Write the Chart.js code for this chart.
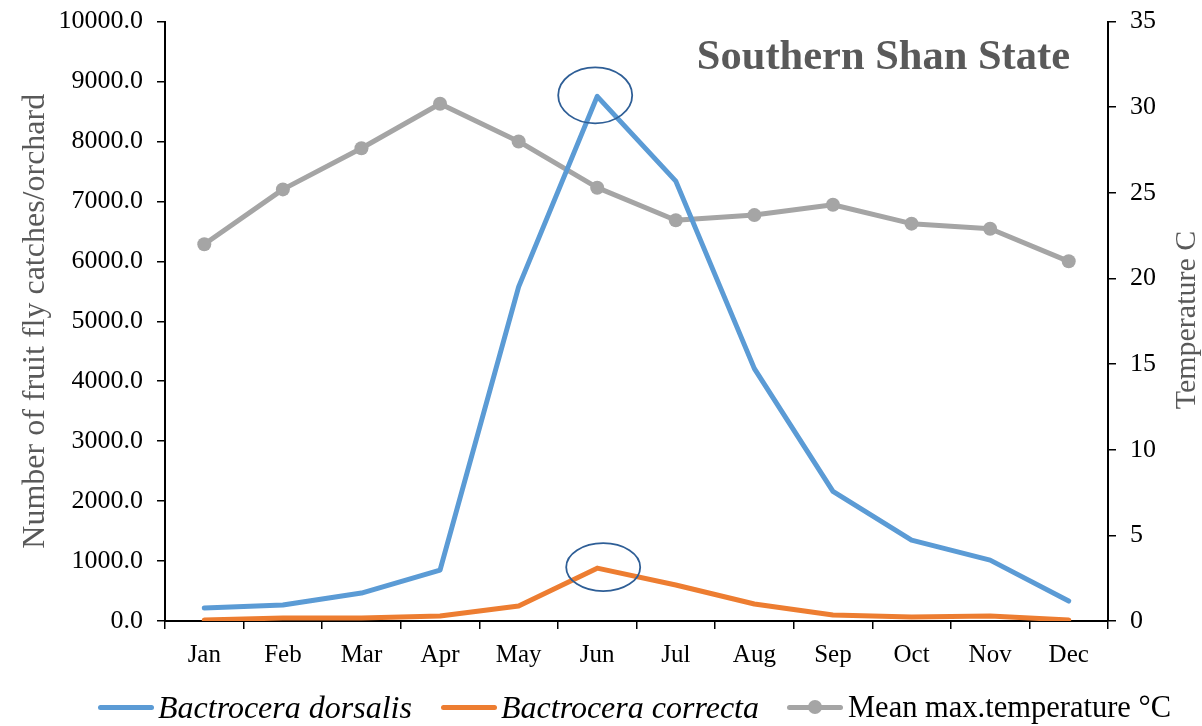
<!DOCTYPE html>
<html><head><meta charset="utf-8">
<script src="https://cdn.jsdelivr.net/npm/chart.js@4"></script>
<style>
html,body{margin:0;padding:0;background:#fff;}
#wrap{position:relative;width:1202px;height:726px;overflow:hidden;}
#legend{position:absolute;left:0;top:688px;width:1202px;height:38px;font-family:"Liberation Serif",serif;color:#000;}
.item{position:absolute;top:0;height:38px;line-height:38px;white-space:nowrap;}
.sw{position:absolute;top:17px;height:5px;border-radius:3px;}
.dot{position:absolute;top:12px;width:14px;height:14px;border-radius:50%;}
.lbl{position:absolute;top:0;}
</style></head>
<body>
<div id="wrap">
<canvas id="c" width="1202" height="726"></canvas>
<div id="legend"></div>
</div>
<script>
const months = ["Jan","Feb","Mar","Apr","May","Jun","Jul","Aug","Sep","Oct","Nov","Dec"];
const dorsalis = [216, 266, 466, 849, 5574, 8752, 7338, 4210, 2163, 1348, 1015, 333];
const correcta = [17, 50, 50, 83, 250, 882, 600, 283, 100, 67, 83, 17];
const temperature = [22.0, 25.2, 27.6, 30.2, 28.0, 25.3, 23.4, 23.7, 24.3, 23.2, 22.9, 21.0];
const leftTicks = {min: 0, max: 10000, step: 1000};
const rightTicks = {min: 0, max: 35, step: 5};
const seriesNames = ["Bactrocera dorsalis", "Bactrocera correcta", "Mean max.temperature °C"];
const chartTitle = "Southern Shan State";
const leftTitle = "Number of fruit fly catches/orchard";
const rightTitle = "Temperature C";

const FONT = "'Liberation Serif', 'Times New Roman', serif";
const BLUE = "#5B9BD5", ORANGE = "#ED7D31", GRAY = "#A5A5A5", TITLEGRAY = "#595959";

const extras = {
  id: 'extras',
  afterDraw(chart) {
    const ctx = chart.ctx, a = chart.chartArea;
    const x = chart.scales.x, y = chart.scales.y;
    ctx.save();
    ctx.font = "bold 42.5px " + FONT;
    ctx.fillStyle = TITLEGRAY;
    ctx.textAlign = 'right';
    ctx.textBaseline = 'alphabetic';
    ctx.fillText(chartTitle, a.right - 38, 69);
    ctx.font = "30px " + FONT;
    ctx.textAlign = 'center';
    ctx.textBaseline = 'middle';
    ctx.translate(1187, 320);
    ctx.rotate(-Math.PI / 2);
    ctx.fillText(rightTitle, 0, 0);
    ctx.restore();
    const peak = dorsalis.indexOf(Math.max(...dorsalis));
    ctx.save();
    ctx.strokeStyle = "#2E5E96";
    ctx.lineWidth = 1.8;
    ctx.beginPath();
    ctx.ellipse(x.getPixelForValue(peak) - 2, y.getPixelForValue(dorsalis[peak]) - 1, 37, 28, 0, 0, Math.PI * 2);
    ctx.stroke();
    const peak2 = correcta.indexOf(Math.max(...correcta));
    ctx.beginPath();
    ctx.ellipse(x.getPixelForValue(peak2) + 6, y.getPixelForValue(correcta[peak2]) - 1, 37, 24, 0, 0, Math.PI * 2);
    ctx.stroke();
    ctx.restore();
  }
};

const tickFont = {family: FONT, size: 26, lineHeight: 0.58};
new Chart(document.getElementById('c'), {
  type: 'line',
  data: {
    labels: months,
    datasets: [
      {label: seriesNames[0], data: dorsalis, yAxisID: 'y', borderColor: BLUE, borderWidth: 5, pointRadius: 0, tension: 0, borderJoinStyle: 'round', borderCapStyle: 'round'},
      {label: seriesNames[1], data: correcta, yAxisID: 'y', borderColor: ORANGE, borderWidth: 5, pointRadius: 0, tension: 0, borderJoinStyle: 'round', borderCapStyle: 'round'},
      {label: seriesNames[2], data: temperature, yAxisID: 'y1', borderColor: GRAY, borderWidth: 5, pointRadius: 7, pointBackgroundColor: GRAY, pointBorderColor: GRAY, pointBorderWidth: 0, tension: 0, borderJoinStyle: 'round'}
    ]
  },
  options: {
    responsive: false, animation: false, devicePixelRatio: 1,
    layout: {padding: {left: 0, right: 0, top: 20, bottom: 55}},
    plugins: {legend: {display: false}, tooltip: {enabled: false}, title: {display: false}},
    scales: {
      x: {
        offset: true,
        grid: {offset: true, drawOnChartArea: false, tickLength: 8, color: '#000', lineWidth: 1.5},
        border: {color: '#000', width: 2},
        ticks: {color: '#000', font: {family: FONT, size: 25}, padding: 11, maxRotation: 0},
        afterFit: s => { s.height = 50; }
      },
      y: {
        position: 'left', min: leftTicks.min, max: leftTicks.max,
        grid: {drawOnChartArea: false, tickLength: 8, color: '#000', lineWidth: 1.5},
        border: {color: '#000', width: 2},
        ticks: {stepSize: leftTicks.step, color: '#000', font: tickFont, padding: 14, callback: v => Number(v).toFixed(1)},
        title: {display: true, text: leftTitle, color: TITLEGRAY, font: {family: FONT, size: 32}, padding: {top: 16, bottom: 0}},
        afterFit: s => { s.width = 165; }
      },
      y1: {
        position: 'right', min: rightTicks.min, max: rightTicks.max,
        grid: {drawOnChartArea: false, tickLength: 8, color: '#000', lineWidth: 1.5},
        border: {color: '#000', width: 2},
        ticks: {stepSize: rightTicks.step, color: '#000', font: tickFont, padding: 14, callback: v => String(v)},
        afterFit: s => { s.width = 94; }
      }
    }
  },
  plugins: [extras]
});

const legend = document.getElementById('legend');
const legendItems = [
  {name: seriesNames[0], color: BLUE, x: 98, italic: true, dot: false, size: 32},
  {name: seriesNames[1], color: ORANGE, x: 441, italic: true, dot: false, size: 32},
  {name: seriesNames[2], color: GRAY, x: 787, italic: false, dot: true, size: 30.5}
];
legendItems.forEach(it => {
  const d = document.createElement('div');
  d.className = 'item';
  d.style.left = it.x + 'px';
  d.style.fontSize = it.size + 'px';
  let html = '<span class="sw" style="left:0;width:56px;background:' + it.color + '"></span>';
  if (it.dot) html += '<span class="dot" style="left:21px;background:' + it.color + '"></span>';
  html += '<span class="lbl" style="left:' + (it.dot ? 61 : 60) + 'px;font-style:' + (it.italic ? 'italic' : 'normal') + '">' + it.name + '</span>';
  d.innerHTML = html;
  legend.appendChild(d);
});
</script>
</body></html>
